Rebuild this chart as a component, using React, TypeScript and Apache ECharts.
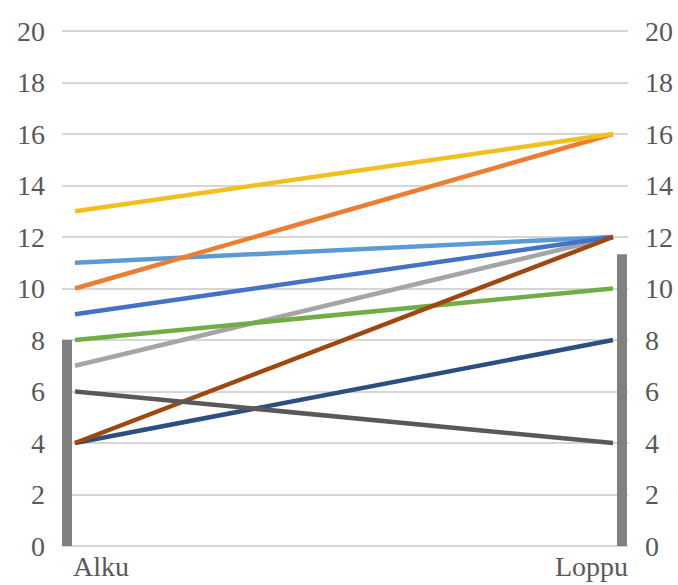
import React, { useEffect, useRef } from "react";
import * as echarts from "echarts";

// Two time points of the slope chart
const categories = ["Alku", "Loppu"];

// Value of each participant at the start and at the end
const startValues = [11, 10, 7, 13, 9, 8, 4, 4, 6];
const endValues = [12, 16, 12, 16, 12, 10, 8, 12, 4];

// One colour per participant line
const lineColors = [
  "#5B9BD5",
  "#ED7D31",
  "#A5A5A5",
  "#F0C020",
  "#4472C4",
  "#70AD47",
  "#2B4F81",
  "#9E480E",
  "#595959",
];

// Value axis ticks
const yTicks = [0, 2, 4, 6, 8, 10, 12, 14, 16, 18, 20];

const mean = (arr: number[]) => arr.reduce((a, b) => a + b, 0) / arr.length;

export default function App() {
  const ref = useRef<HTMLDivElement>(null);

  useEffect(() => {
    document.body.style.margin = "0";
    if (!ref.current) return;
    const chart = echarts.init(ref.current, undefined, { renderer: "svg" });

    const textColor = "#595959";
    const fontFamily = "Times New Roman, Liberation Serif, DejaVu Serif, serif";
    const fontSize = 28;

    // x positions: 0 = start, 1 = end; the mean bars sit just outside
    const xMin = -0.0242;
    const xMax = 1.0279;
    const barX = [-0.0149, 1.0167];
    const means = [mean(startValues), mean(endValues)];

    const lineSeries = startValues.map((s, i) => ({
      type: "line",
      data: [
        [0, s],
        [1, endValues[i]],
      ],
      symbol: "none",
      lineStyle: { color: lineColors[i], width: 4.5 },
      z: 3,
    }));

    const meanBars = means.map((m, i) => ({
      type: "line",
      data: [
        [barX[i], 0],
        [barX[i], m],
      ],
      symbol: "none",
      lineStyle: { color: "#808080", width: 10, cap: "butt" },
      z: 2,
    }));

    const yAxisBase = {
      type: "value",
      min: yTicks[0],
      max: yTicks[yTicks.length - 1],
      interval: 2,
      axisLine: { show: false },
      axisTick: { show: false },
      axisLabel: {
        color: textColor,
        fontFamily,
        fontSize,
        margin: 17,
      },
    };

    const catText = (text: string) => ({
      text,
      fill: textColor,
      fontFamily,
      fontSize,
    });

    chart.setOption({
      animation: false,
      grid: { left: 62, right: 50, top: 31, bottom: 39, containLabel: false },
      xAxis: {
        type: "value",
        min: xMin,
        max: xMax,
        show: false,
      },
      yAxis: [
        {
          ...yAxisBase,
          position: "left",
          splitLine: { show: true, lineStyle: { color: "#c8c8c8", width: 1.5 } },
        },
        {
          ...yAxisBase,
          position: "right",
          splitLine: { show: false },
        },
      ],
      series: [...meanBars, ...lineSeries],
      graphic: [
        { type: "text", left: 73, top: 552, style: catText(categories[0]) },
        { type: "text", right: 50, top: 552, style: catText(categories[1]) },
      ],
    });

    return () => chart.dispose();
  }, []);

  return <div ref={ref} style={{ width: 678, height: 585 }} />;
}
